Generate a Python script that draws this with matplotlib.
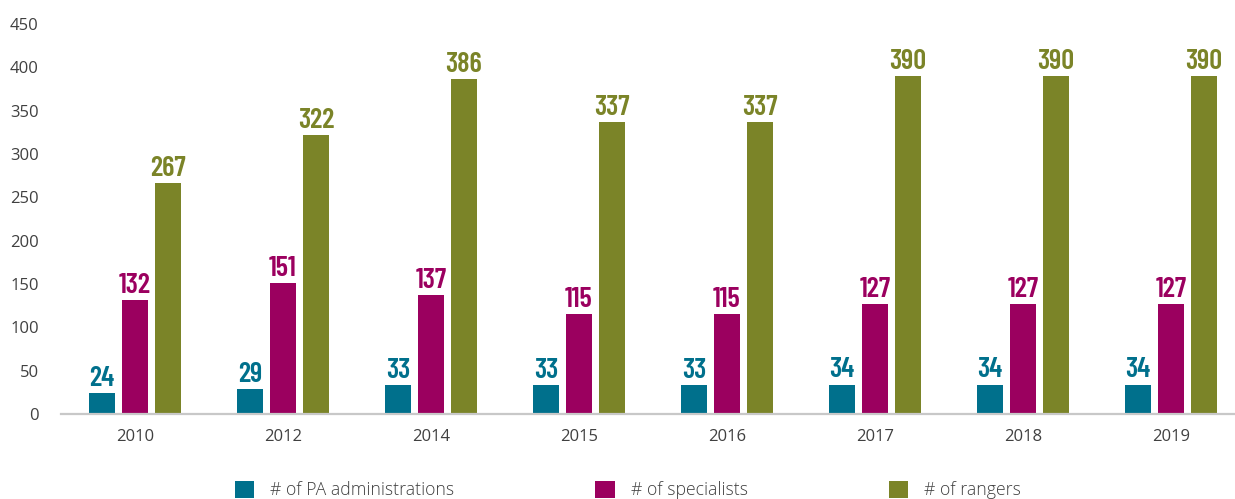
import matplotlib
matplotlib.use("Agg")
import matplotlib.pyplot as plt
import numpy as np

years = ["2010", "2012", "2014", "2015", "2016", "2017", "2018", "2019"]
pa_admin = [24, 29, 33, 33, 33, 34, 34, 34]
specialists = [132, 151, 137, 115, 115, 127, 127, 127]
rangers = [267, 322, 386, 337, 337, 390, 390, 390]
series_names = ["# of PA administrations", "# of specialists", "# of rangers"]
colors = ["#00708c", "#9b005f", "#7b8428"]
yticks = [0, 50, 100, 150, 200, 250, 300, 350, 400, 450]

W, H = 1235, 499
fig = plt.figure(figsize=(W / 100, H / 100), dpi=100)
ax = fig.add_axes([61 / W, (H - 414) / H, (W - 61) / W, 390 / H])

x = np.arange(len(years))
bw = 26 / 148
off = 33 / 148
label_font = ["Barlow Condensed", "DejaVu Sans"]
tick_font = ["Open Sans", "DejaVu Sans"]

for i, (vals, c, name) in enumerate(zip([pa_admin, specialists, rangers], colors, series_names)):
    xs = x + (i - 1) * off
    bars = ax.bar(xs, vals, width=bw, color=c, label=name, zorder=2)
    for b, v in zip(bars, vals):
        ax.annotate(str(v), (b.get_x() + b.get_width() / 2, v), xytext=(0, 1.5),
                    textcoords="offset points", ha="center", va="bottom",
                    fontsize=20.5, fontweight=600, color=c, family=label_font)

ax.set_xlim(-0.5, -0.5 + (W - 61) / 148)
ax.set_ylim(0, 450)
ax.set_yticks(yticks)
ax.set_xticks(x)
ax.set_xticklabels(years)
for s in ["top", "right", "left"]:
    ax.spines[s].set_visible(False)
ax.spines["bottom"].set_color("#c8c8c8")
ax.spines["bottom"].set_linewidth(1.6)
ax.tick_params(axis="both", length=0, labelsize=12, labelcolor="#404040")
ax.tick_params(axis="y", pad=16)
ax.tick_params(axis="x", pad=11)
for lab in ax.get_xticklabels() + ax.get_yticklabels():
    lab.set_family(tick_font)

leg = fig.legend(loc="center", bbox_to_anchor=(628 / W, 1 - 490 / H), ncol=3,
                 frameon=False, handlelength=1.1, handleheight=1.1,
                 handletextpad=0.9, columnspacing=8.0, borderpad=0, borderaxespad=0,
                 prop={"family": tick_font, "size": 12.7, "weight": 300})
for t in leg.get_texts():
    t.set_color("#404040")

fig.savefig("out.png", dpi=100)
